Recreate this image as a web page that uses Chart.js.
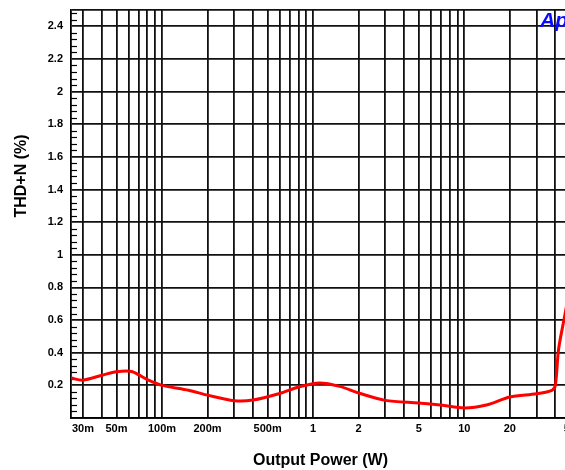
<!DOCTYPE html>
<html>
<head>
<meta charset="utf-8">
<script src="https://cdn.jsdelivr.net/npm/chart.js@4"></script>
<style>
  html,body{margin:0;padding:0;background:#fff;overflow:hidden;}
  #wrap{width:572px;height:470px;}
</style>
</head>
<body>
<div id="wrap"><canvas id="thdChart" width="572" height="470"></canvas></div>
<script>
const powerW = [0.025, 0.03, 0.04, 0.05, 0.063, 0.08, 0.1, 0.15, 0.2, 0.3, 0.4, 0.6, 0.8, 1.1, 1.5, 2, 3, 5, 7, 10, 14, 20, 30, 38, 40, 42, 46, 50];
const thdPct = [0.245, 0.232, 0.262, 0.284, 0.285, 0.235, 0.2, 0.17, 0.14, 0.106, 0.11, 0.15, 0.19, 0.215, 0.194, 0.153, 0.108, 0.092, 0.08, 0.062, 0.08, 0.129, 0.149, 0.17, 0.2, 0.42, 0.62, 0.8];

const xLabelValues = [0.03, 0.05, 0.1, 0.2, 0.5, 1, 2, 5, 10, 20, 50];
const xLabelText = ["30m", "50m", "100m", "200m", "500m", "1", "2", "5", "10", "20", "50"];
const yGridValues = [0, 0.2, 0.4, 0.6, 0.8, 1, 1.2, 1.4, 1.6, 1.8, 2, 2.2, 2.4, 2.5];
const yLabelValues = [0.2, 0.4, 0.6, 0.8, 1, 1.2, 1.4, 1.6, 1.8, 2, 2.2, 2.4];

const X_MIN = 0.025, X_MAX = 50;
const FONT = "'Liberation Sans', Arial, sans-serif";

// every 1..9 x decade gridline inside the range
const xGridValues = [];
for(let d = -2; d <= 1; d++){
    for(let m = 1; m <= 9; m++){
        const v = +(m * Math.pow(10, d)).toPrecision(3);
        if(v >= X_MIN && v <= X_MAX) xGridValues.push(v);
    }
}
xGridValues.push(X_MAX);

const extras = {
    id:"extras",
    beforeDatasetsDraw(chart){
        const ctx = chart.ctx;
        const y = chart.scales.y;
        const left = chart.chartArea.left;
        ctx.save();
        ctx.strokeStyle = "#000";
        ctx.lineWidth = 1.2;
        for(let i = 1; i < 63; i++){
            if(i % 5 === 0) continue;
            const py = Math.round(y.getPixelForValue(i * 0.04)) + 0.5;
            ctx.beginPath();
            ctx.moveTo(left, py);
            ctx.lineTo(left + 6, py);
            ctx.stroke();
        }
        ctx.restore();
    },
    afterDraw(chart){
        const ctx = chart.ctx;
        ctx.save();
        // y axis title
        ctx.translate(22, 176);
        ctx.rotate(-Math.PI / 2);
        ctx.fillStyle = "#000";
        ctx.font = "bold 16px " + FONT;
        ctx.textAlign = "center";
        ctx.textBaseline = "middle";
        ctx.fillText("THD+N (%)", 0, 0);
        ctx.restore();

        ctx.save();
        ctx.fillStyle = "#0a0aff";
        ctx.font = "italic bold 21px " + FONT;
        ctx.textAlign = "left";
        ctx.textBaseline = "alphabetic";
        ctx.fillText("Ap", 540, 27);
        ctx.restore();
    }
};

new Chart(document.getElementById("thdChart").getContext("2d"),{
    type:"line",
    data:{
        datasets:[{
            data:powerW.map((p,i)=>({x:p, y:thdPct[i]})),
            borderColor:"#ff0000",
            borderWidth:3,
            pointRadius:0,
            tension:0.3,
            fill:false
        }]
    },
    options:{
        responsive:false,
        animation:false,
        layout:{padding:{top:10, left:0, right:2, bottom:0}},
        plugins:{legend:{display:false}, tooltip:{enabled:false}},
        scales:{
            x:{
                type:"logarithmic",
                min:X_MIN,
                max:X_MAX,
                afterBuildTicks(scale){
                    scale.ticks = xGridValues.map(v=>({value:v}));
                },
                afterFit(scale){
                    scale.height = 52;
                    scale.paddingLeft = 0;
                    scale.paddingRight = 0;
                },
                ticks:{
                    autoSkip:false,
                    maxRotation:0,
                    padding:4,
                    color:"#000",
                    font:{family:FONT, size:11, weight:"bold"},
                    callback(value){
                        const i = xLabelValues.findIndex(v=>Math.abs(v - value) < 1e-9);
                        return i >= 0 ? xLabelText[i] : "";
                    }
                },
                grid:{color:"#111", lineWidth:1.8, drawTicks:false},
                border:{color:"#000", width:1.8},
                title:{
                    display:true,
                    text:"Output Power (W)",
                    color:"#000",
                    padding:0,
                    font:{family:FONT, size:16, weight:"bold"}
                }
            },
            y:{
                min:0,
                max:2.5,
                afterBuildTicks(scale){
                    scale.ticks = yGridValues.map(v=>({value:v}));
                },
                afterFit(scale){
                    scale.width = 71;
                    scale.paddingTop = 0;
                    scale.paddingBottom = 0;
                },
                ticks:{
                    padding:8,
                    color:"#000",
                    font:{family:FONT, size:11, weight:"bold"},
                    callback(value){
                        return yLabelValues.some(v=>Math.abs(v - value) < 1e-9)
                            ? String(+value.toFixed(1)) : "";
                    }
                },
                grid:{color:"#111", lineWidth:1.8, drawTicks:false},
                border:{color:"#000", width:1.8}
            }
        }
    },
    plugins:[extras]
});
</script>
</body>
</html>
